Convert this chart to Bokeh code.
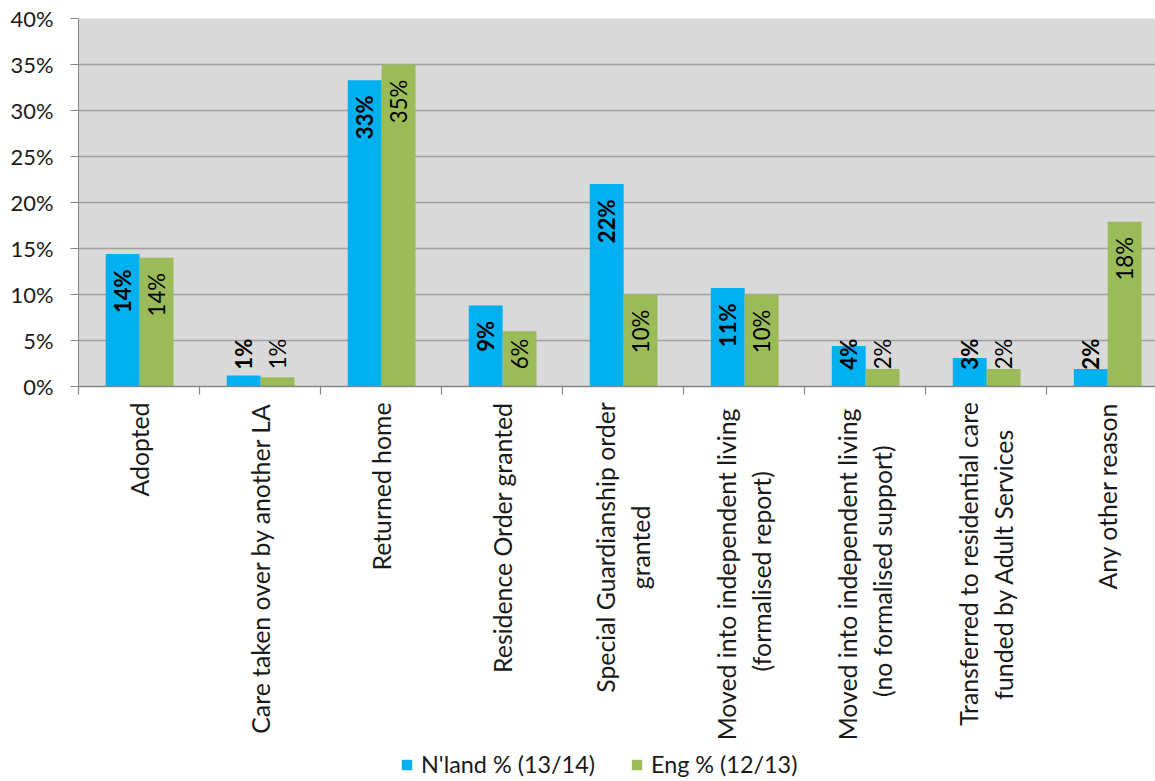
import math, os, glob
from bokeh.plotting import figure
from bokeh.layouts import column
from bokeh.models import (Range1d, FixedTicker, PrintfTickFormatter, ColumnDataSource,
                          Legend, LegendItem)
from bokeh.core.properties import value
from bokeh.embed import file_html
from bokeh.resources import INLINE

categories = [
    "Adopted",
    "Care taken over by another LA",
    "Returned home",
    "Residence Order granted",
    "Special Guardianship order\ngranted",
    "Moved into independent  living\n(formalised report)",
    "Moved into independent  living\n(no formalised support)",
    "Transferred to residential care\nfunded by Adult Services",
    "Any other reason",
]
nland = [14.4, 1.2, 33.3, 8.8, 22.0, 10.7, 4.4, 3.1, 1.9]
eng = [14.0, 1.0, 35.0, 6.0, 10.0, 10.0, 1.9, 1.9, 17.9]
series_names = ["N'land % (13/14)", "Eng % (12/13)"]
y_ticks = [0, 5, 10, 15, 20, 25, 30, 35, 40]

BLUE = "#00B0F0"
GREEN = "#9BBB59"
AXIS = "#868686"
FONT = "Lato"
TXT = "#1a1a1a"


# ---- font measuring helpers (layout only) ----
def find_font(fname):
    dirs = ["/usr/share/fonts", "/usr/local/share/fonts",
            os.path.expanduser("~/.fonts"), os.path.expanduser("~/.local/share/fonts")]
    for d in dirs:
        hits = glob.glob(os.path.join(d, "**", fname), recursive=True)
        if hits:
            return hits[0]
    return None

try:
    from PIL import ImageFont
    _reg = find_font("Lato-Regular.ttf")
    _bold = find_font("Lato-Bold.ttf")
    F_REG = ImageFont.truetype(_reg, 100) if _reg else None
    F_BOLD = ImageFont.truetype(_bold, 100) if _bold else None
except Exception:
    F_REG = F_BOLD = None


def em_len(text, bold=False):
    f = F_BOLD if bold else F_REG
    if f is None:
        return len(text) * 0.5
    return f.getlength(text) / 100.0


def fit_size(text, target_px, bold=False, fallback=21.0):
    L = em_len(text, bold)
    if L <= 0:
        return fallback
    s = target_px / L
    return s if 12 < s < 40 else fallback

cat_size = (fit_size("Residence Order granted", 269, fallback=23)
            + fit_size("Returned home", 168, fallback=23)) / 2
tick_size = fit_size("40%", 43, fallback=21)
leg_size = fit_size(series_names[0], 174, fallback=21)
lab_size = fit_size("14%", 44, bold=True, fallback=21)

n = len(categories)
centers = [i + 0.5 for i in range(n)]
bounds = list(range(n))
bar_w = 0.28
off = 0.14
x_blue = [c - off + 0.005 for c in centers]
x_green = [c + off + 0.005 for c in centers]


def label_y(v):
    return max(v - 1.65, 5.2)

src_b = ColumnDataSource(dict(x=x_blue, top=nland,
                              ly=[label_y(v) for v in nland],
                              txt=[f"{round(v)}%" for v in nland]))
src_g = ColumnDataSource(dict(x=x_green, top=eng,
                              ly=[label_y(v) for v in eng],
                              txt=[f"{round(v)}%" for v in eng]))

xr = Range1d(0, 8.9)
BOTTOM_GAP = 14   # chart's bottom border (holds the boundary tick marks)

# ---------------- chart ----------------
p = figure(frame_width=1077, frame_height=368,
           x_range=xr, y_range=Range1d(0, 40),
           output_backend="svg", toolbar_location=None,
           min_border_left=78, min_border_right=0, min_border_top=18,
           min_border_bottom=BOTTOM_GAP)
p.background_fill_color = "#D9D9D9"
p.border_fill_color = "white"
p.outline_line_color = None

rb = p.vbar(x="x", top="top", width=bar_w, bottom=0, source=src_b,
            fill_color=BLUE, line_color=None)
rg = p.vbar(x="x", top="top", width=bar_w, bottom=0, source=src_g,
            fill_color=GREEN, line_color=None)

p.text(x="x", y="ly", text="txt", source=src_b, angle=math.pi / 2,
       text_align="right", text_baseline="middle",
       text_font=value(FONT), text_font_size=f"{lab_size:.1f}px",
       text_font_style="bold", text_color="black")
p.text(x="x", y="ly", text="txt", source=src_g, angle=math.pi / 2,
       text_align="right", text_baseline="middle",
       text_font=value(FONT), text_font_size=f"{lab_size:.1f}px",
       text_color="black")

p.yaxis.ticker = FixedTicker(ticks=y_ticks)
p.yaxis.formatter = PrintfTickFormatter(format="%d%%")
p.yaxis.axis_line_color = AXIS
p.yaxis.major_tick_line_color = AXIS
p.yaxis.major_tick_out = 8
p.yaxis.major_tick_in = 0
p.yaxis.minor_tick_line_color = None
p.yaxis.major_label_standoff = 17
p.yaxis.major_label_text_font = FONT
p.yaxis.major_label_text_font_size = f"{tick_size:.1f}px"
p.yaxis.major_label_text_color = TXT

# category axis: line + tick marks at category boundaries (labels drawn below)
p.xaxis.ticker = FixedTicker(ticks=[], minor_ticks=bounds)
p.xaxis.axis_line_color = AXIS
p.xaxis.axis_line_width = 1.5
p.xaxis.major_tick_out = 8
p.xaxis.major_tick_in = 0
p.xaxis.major_tick_line_alpha = 0
p.xaxis.minor_tick_line_color = AXIS
p.xaxis.minor_tick_line_width = 1.2
p.xaxis.minor_tick_out = 8
p.xaxis.minor_tick_in = 0
p.xaxis.major_label_standoff = 0
p.xaxis.major_label_text_font_size = "1px"

p.xgrid.grid_line_color = None
p.ygrid.ticker = FixedTicker(ticks=y_ticks)
p.ygrid.grid_line_color = "#A0A0A0"
p.ygrid.grid_line_width = 1.5

# ---------------- category labels + legend strip ----------------
# y in this strip = pixels below the chart's baseline (negative = down)
STRIP_H = 778 - (18 + 368 + BOTTOM_GAP)
q = figure(frame_width=1077, frame_height=STRIP_H,
           x_range=xr, y_range=Range1d(-BOTTOM_GAP - STRIP_H, -BOTTOM_GAP),
           output_backend="svg", toolbar_location=None,
           x_axis_location=None, y_axis_location=None,
           min_border_left=78, min_border_right=0, min_border_top=0,
           min_border_bottom=0)
q.background_fill_color = "white"
q.border_fill_color = "white"
q.outline_line_color = None
q.xgrid.grid_line_color = None
q.ygrid.grid_line_color = None

LABEL_TOP = 16
single = [(c, t) for c, t in zip(centers, categories) if "\n" not in t]
double = [(c, t) for c, t in zip(centers, categories) if "\n" in t]
src_s = ColumnDataSource(dict(x=[c for c, _ in single], y=[-LABEL_TOP] * len(single),
                              t=[t for _, t in single]))
src_d = ColumnDataSource(dict(
    x=[c for c, _ in double],
    y=[-(LABEL_TOP + max(em_len(ln) for ln in t.split("\n")) * cat_size / 2) for _, t in double],
    t=[t for _, t in double]))
q.text(x="x", y="y", text="t", source=src_s, angle=math.pi / 2,
       text_align="right", text_baseline="middle",
       text_font=value(FONT), text_font_size=f"{cat_size:.1f}px", text_color=TXT)
q.text(x="x", y="y", text="t", source=src_d, angle=math.pi / 2,
       text_align="center", text_baseline="middle", text_line_height=1.2,
       text_font=value(FONT), text_font_size=f"{cat_size:.1f}px", text_color=TXT)

# legend swatches: hidden copies of the series, used only for the key
qb = q.vbar(x="x", top="top", width=bar_w, bottom=0, source=src_b,
            fill_color=BLUE, line_color=None, visible=False)
qg = q.vbar(x="x", top="top", width=bar_w, bottom=0, source=src_g,
            fill_color=GREEN, line_color=None, visible=False)
legend = Legend(items=[LegendItem(label=series_names[0], renderers=[qb]),
                       LegendItem(label=series_names[1], renderers=[qg])],
                orientation="horizontal", location=(322, 0),
                label_text_font=FONT, label_text_font_size=f"{leg_size:.1f}px",
                label_text_color=TXT, label_height=22,
                glyph_width=13, glyph_height=13, label_standoff=8,
                spacing=35, padding=0, margin=0, click_policy="none",
                border_line_color=None, background_fill_alpha=0)
q.add_layout(legend, "center")

layout = column(p, q, spacing=0)
open("out.html", "w").write(file_html(layout, INLINE))
